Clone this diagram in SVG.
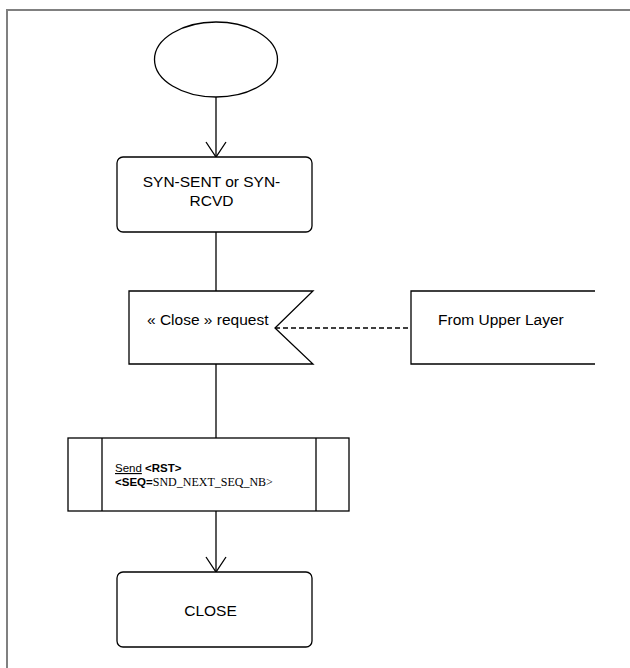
<svg xmlns="http://www.w3.org/2000/svg" width="630" height="668" viewBox="0 0 630 668">
<style>
.s{fill:#fff;stroke:#000;stroke-width:1.3}
.o{fill:none;stroke:#000;stroke-width:1.3}
.t{font-family:"Liberation Sans",Arial,sans-serif;font-size:15.5px;fill:#000}
.sm{font-family:"Liberation Sans",Arial,sans-serif;font-size:11.5px;fill:#000}
.tm{font-family:"Liberation Serif","Times New Roman",serif;font-size:12px}
</style>
<rect width="630" height="668" fill="#fff"/>
<path d="M7,668 V10 H630" fill="none" stroke="#808080" stroke-width="2"/>
<g id="connectors">
<line class="o" x1="216" y1="97" x2="216" y2="157"/>
<polyline class="o" points="206,142 216,157 226,142"/>
<line class="o" x1="216" y1="232" x2="216" y2="291"/>
<line class="o" x1="216" y1="364" x2="216" y2="438"/>
<line class="o" x1="216" y1="511" x2="216" y2="572"/>
<polyline class="o" points="206,557 216,572 226,557"/>
<line class="o" x1="275" y1="328" x2="411" y2="328" stroke-dasharray="5,3"/>
</g>
<g id="start">
<ellipse class="s" cx="216" cy="59.5" rx="61.5" ry="37.5"/>
</g>
<g id="state1">
<rect class="s" x="117" y="157" width="195" height="75" rx="6"/>
<text class="t" x="211.5" y="187" text-anchor="middle">SYN-SENT or SYN-</text>
<text class="t" x="211.5" y="206" text-anchor="middle">RCVD</text>
</g>
<g id="input">
<polygon class="s" points="129,291 313,291 275,328 313,364 129,364"/>
<text class="t" x="147" y="325" font-size="16px">« Close » request</text>
</g>
<g id="upper">
<path class="o" d="M595,291 H411 V364 H595"/>
<text class="t" x="438" y="325" font-size="16px">From Upper Layer</text>
</g>
<g id="process">
<rect class="s" x="68" y="438" width="281" height="73"/>
<line class="o" x1="102" y1="438" x2="102" y2="511"/>
<line class="o" x1="316" y1="438" x2="316" y2="511"/>
<text class="sm" x="115" y="472"><tspan text-decoration="underline">Send</tspan> <tspan font-weight="bold">&lt;RST&gt;</tspan></text>
<text class="sm" x="115" y="486"><tspan font-weight="bold">&lt;SEQ=</tspan><tspan class="tm">SND_NEXT_SEQ_NB&gt;</tspan></text>
</g>
<g id="close">
<rect class="s" x="117" y="572" width="195" height="75" rx="6"/>
<text class="t" x="210.5" y="616" text-anchor="middle">CLOSE</text>
</g>
</svg>
